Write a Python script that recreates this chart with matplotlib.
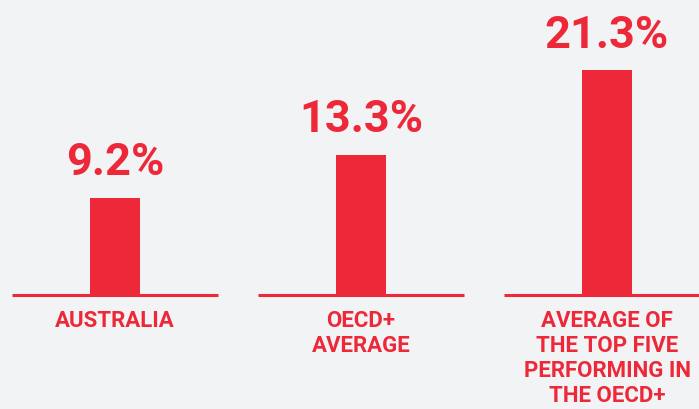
import matplotlib.pyplot as plt

# chart data
categories = ['AUSTRALIA', 'OECD+\nAVERAGE', 'AVERAGE OF\nTHE TOP FIVE\nPERFORMING IN\nTHE OECD+']
values = [9.2, 13.3, 21.3]
value_labels = ['9.2%', '13.3%', '21.3%']

red = '#ed2939'
bg = '#f2f3f5'

fig = plt.figure(figsize=(6.99, 4.10), dpi=100, facecolor=bg)
ax = fig.add_axes([0, 0, 1, 1])
ax.set_facecolor(bg)

px_per_unit = 10.55
base_px = 114  # baseline height from the bottom, pixels
ax.set_xlim(-115 / 246, (699 - 115) / 246)
ax.set_ylim(-base_px / px_per_unit, (410 - base_px) / px_per_unit)
ax.axis('off')

xs = range(len(values))
ax.bar(xs, values, width=50 / 246, color=red, zorder=2)
for i, (v, lab, cat) in enumerate(zip(values, value_labels, categories)):
    ax.hlines(0, i - 0.42, i + 0.42, color=red, lw=2.2, zorder=3)
    ax.annotate(lab, (i, v), xytext=(0, 17), textcoords='offset points',
                ha='center', va='baseline', color=red, fontsize=32.5,
                fontweight='bold', family=['Roboto', 'DejaVu Sans'])
    ax.annotate(cat, (i, 0), xytext=(0, -10), textcoords='offset points',
                ha='center', va='top', color=red, fontsize=16,
                fontweight='bold', family=['Roboto', 'DejaVu Sans'],
                linespacing=1.18)

fig.savefig('out.png', dpi=100, facecolor=bg)
